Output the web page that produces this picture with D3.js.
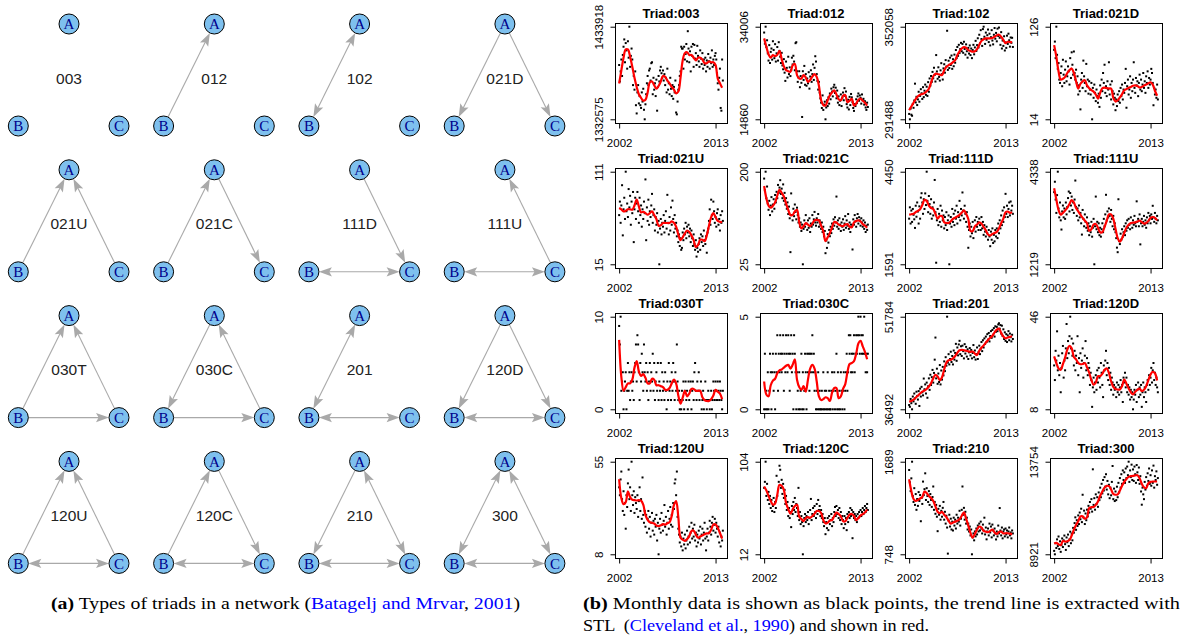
<!DOCTYPE html>
<html lang="en">
<head>
<meta charset="UTF-8">
<title>Triad census</title>
<script src="https://d3js.org/d3.v7.min.js"></script>
<style>
  body { margin: 0; background: #fff; }
  svg { display: block; }
</style>
</head>
<body>
<script>
// triad types, same order for the graphs (left) and the time series (right)
var triadTypes = ["003", "012", "102", "021D", "021U", "021C", "111D", "111U",
                  "030T", "030C", "201", "120D", "120U", "120C", "210", "300"];

// "X>Y" one-way tie, "X=Y" mutual tie
var triadEdges = [
  [], ["B>A"], ["A=B"], ["A>B", "A>C"],
  ["B>A", "C>A"], ["B>A", "A>C"], ["A>C", "B=C"], ["C>A", "B=C"],
  ["B>A", "C>A", "B>C"], ["A>B", "C>A", "B>C"], ["A=B", "B=C"], ["A>B", "A>C", "B=C"],
  ["B>A", "C>A", "B=C"], ["B>A", "A>C", "B=C"], ["A>B", "A=C", "B=C"], ["A=B", "A=C", "B=C"]
];

// y tick labels (min and max of each series)
var yMin = [1332575, 14860, 291488, 14, 15, 25, 1591, 1219, 0, 0, 36492, 8, 8, 12, 748, 8921];
var yMax = [1433918, 34006, 352058, 126, 111, 200, 4450, 4338, 10, 5, 51784, 46, 55, 104, 1689, 13754];
var xTicks = [2002, 2013];
var firstYear = 2002;

// STL trend, read every third month (Jan 2002, Apr 2002, ...)
var trend003 = [1371700,1386000,1400000,1409000,1409000,1401000,1390000,1378000,1368000,1360000,1356000,1353000,1354000,1362000,1373000,1374000,1370000,1366000,1369000,1374000,1380000,1379000,1375000,1372000,1368000,1365000,1361000,1363000,1378000,1397000,1405000,1406000,1403000,1403000,1400000,1397000,1400000,1400000,1398000,1394000,1394000,1396000,1395000,1395000,1392000,1377000,1372000,1367000];
var trend012 = [31590,29850,28300,27600,28130,27900,28200,29030,27300,25800,25020,24800,24680,26000,26300,24000,23290,23290,24000,23500,22600,23000,23700,24190,23600,21800,18800,17800,17700,18800,19800,20400,20870,20000,19000,18800,19700,19900,18400,18700,19100,17700,18100,18900,19150,18700,18300,17700];
var trend102 = [297400,299900,302300,304700,306600,307600,308000,308600,309800,311500,315500,319600,321300,321100,320700,320400,323600,325800,326900,327700,328900,330200,333500,335900,337800,338700,338300,336700,336200,335700,336000,337400,340300,342800,343900,344400,344400,344400,344700,345500,346500,346800,345500,343400,341300,342200,342000,341800];
var trend021D = [103.7,89.6,72,62,63,65.3,70,73.5,75.5,70,60,51.2,57,60,61.3,55,51.5,49.2,47.5,44,39.1,46,51.5,52.4,51.7,51.2,51.2,40,35.5,37.1,40.5,44.5,49.2,50.5,52,53.2,54.5,55,54.2,52.5,53,54.7,56.2,57.5,58.8,56,48.5,42.5];
var trend021U = [73.3,72,69.9,70.5,72,72,71.6,76,82,75,68.8,69.5,68,66.4,68,69.9,66,62,55,55.5,57.8,57.8,57.8,57.8,59.6,58,54,46,40,43,47,50,48.5,45,40,33,35,40.5,40.5,39,45,55,64,68,64,60,59,58.6];
var trend021C = [173,150,136,132,135.6,142,155,165.7,160,153,140,128,118,118,125,128,105,93,97,103,100,97,102,108,109,108,98,87.5,68.8,76,84,95,105,104,100,98,97,100,101,96,95,104,107,108,106,101,98,94];
var trend111D = [3123,3135,3152,3200,3240,3290,3420,3580,3550,3400,3330,3300,3150,3000,3080,3080,2890,2866,2866,2920,2990,3030,3070,3120,3180,3260,3150,2990,2620,2620,2760,2820,2888,2850,2740,2640,2510,2480,2530,2560,2590,2700,2860,3000,3200,3220,3180,3200];
var trend111U = [3780,3400,3050,2890,2950,3030,3120,3250,3380,3300,3112,3000,2890,2780,2690,2600,2350,2400,2560,2580,2450,2300,2300,2480,2680,2900,2900,2750,2420,2100,1980,2100,2280,2450,2550,2610,2620,2630,2660,2690,2640,2590,2610,2680,2780,2813,2780,2700];
var trend030T = [7.5,3.5,2.0,2.4,2.8,2.8,3.2,4.5,5.2,4.1,3.6,3.8,3.4,2.8,2.8,3.3,3.2,2.6,2.6,2.5,2.4,2.1,2.1,2.3,2.8,3.2,2.8,1.5,0.6,1.25,2.0,1.4,1.7,2.2,2.2,2.0,2.0,2.0,1.3,1.0,0.9,0.9,1.1,1.5,2.1,1.9,1.7,1.1];
var trend030C = [1.5,0.8,0.7,1.3,1.55,1.65,1.95,2.1,2.15,2.25,2.35,2.4,2.2,2.4,2.7,1.6,1.2,1.05,1.25,0.95,1.6,2.2,2.4,2.2,1.5,0.7,0.5,0.55,0.65,0.6,0.45,0.9,1.15,1.15,0.6,0.7,1.1,1.35,2.0,2.45,2.5,2.6,3.0,3.55,3.7,3.4,3.1,2.7];
var trend201 = [37760,37850,38100,38400,38750,39100,39400,39600,39850,40250,40800,41600,42200,41900,41300,41800,43100,44200,44600,44650,44900,45290,45830,46250,46320,46250,46170,46050,45990,46030,45700,45450,46150,46650,47050,47500,47950,48300,48650,49200,49650,49820,49110,48500,48220,48340,48450,48550];
var trend120D = [29.7,27,24.8,24.2,26.5,29.2,32.5,34,33,29.5,28.5,27,26.5,26.6,27,25.2,23,20,18.1,18.9,21.6,21.6,22.6,24.2,24.8,22.9,19.5,17.2,16.3,16.1,16.1,17.5,20.2,18.5,16.5,15,14.1,15.2,16,16.5,15.5,16,17.5,20,22.3,23.4,22.8,19.8];
var trend120U = [46.1,36.5,33.5,34.5,40,37,35.7,35.5,35.3,35.5,35.2,33.2,28,25.5,24.3,24,23.6,22.6,22.3,22.7,23.3,23.1,23.8,24.3,27.5,33,35,27,16.5,15.4,14.8,15.7,17.2,19.8,20,18,16.4,17,17.6,18.2,18.6,18.7,20.5,23.1,23.1,21.5,18.8,16];
var trend120C = [79.4,75.5,70,65,61.3,62.5,71.2,81,80,76,63,57,52.4,56.5,60,61.3,49.5,47,45,48,49,48.3,50,52.4,55,55,53,46,42.6,43.5,45.5,46,50,53.5,52,49.8,45,44.8,48.3,51.5,52,50,46,48,50.5,52,53.5,56.5];
var trend210 = [1511,1390,1310,1290,1300,1315,1330,1385,1370,1340,1320,1290,1235,1180,1165,1180,1150,1125,1090,1060,1070,1080,1088,1105,1140,1175,1110,1040,966,916,955,1000,1030,1020,985,978,973,985,1000,970,955,975,978,960,962,962,958,950];
var trend300 = [9491,9520,9440,9400,9612,9580,9600,9665,9900,10200,10450,10646,10900,10900,10780,10850,11338,11380,11390,11500,11681,11980,12200,12400,12493,12480,12300,12070,12029,12050,12250,12500,12700,12850,12960,13000,13010,13040,13050,12889,12600,12420,12372,12633,12700,12720,12720,12720];

// monthly counts, Jan 2002 .. Nov 2013
var points003 = [
  1392000,1374000,1385000,1398000,1380000,1403000,1412000,1420000,1395000,1416000,1408000,1388000,
  1418000,1400000,1433918,1390000,1402000,1410000,1398000,1370000,1380000,1365000,1385000,1348000,
  1339000,1362000,1370000,1350000,1358000,1348000,1345000,1362000,1352000,1366000,1343000,1332575,
  1349000,1360000,1372000,1380000,1370000,1386000,1388000,1375000,1394000,1395000,1360000,1378000,
  1365000,1372000,1358000,1376000,1342000,1368000,1380000,1374000,1386000,1390000,1383000,1378000,
  1386000,1375000,1382000,1370000,1378000,1362000,1388000,1365000,1372000,1360000,1378000,1366000,
  1358000,1370000,1355000,1368000,1362000,1375000,1340000,1338000,1352000,1365000,1370000,1380000,
  1385000,1412000,1410000,1410000,1388000,1412000,1398000,1404000,1415000,1396000,1429000,1410000,
  1395000,1407000,1385000,1412000,1402000,1415000,1390000,1414000,1399000,1405000,1392000,1413000,
  1402000,1396000,1390000,1408000,1399000,1393000,1405000,1388000,1398000,1392000,1400000,1385000,
  1397000,1390000,1404000,1396000,1388000,1400000,1394000,1408000,1390000,1398000,1392000,1402000,
  1405000,1398000,1383000,1372000,1365000,1378000,1388000,1345000,1342000,1398000,1375000];
var points012 = [
  32800,30500,34006,29800,31200,28500,27000,30200,26500,28800,29500,27200,
  31000,29200,27500,30400,26800,28500,29800,27000,30800,29000,27800,26500,
  28600,26000,25200,27300,24500,22800,26800,25500,23500,27800,24200,25600,
  23800,25000,27600,26200,28000,26800,25000,30600,30800,24800,22600,23500,
  24800,21500,23800,22400,15340,24800,23000,25900,22000,24200,21800,23300,
  22300,24600,21200,23700,25000,22600,24200,26200,23000,25500,27900,26800,
  24200,22800,21000,22600,20400,19200,18300,17200,19800,16800,17900,18500,
  14860,17300,18800,17600,19400,18100,20200,19000,21200,20600,19600,21500,
  22000,20300,21400,19200,20800,18300,19600,17800,18700,20000,17600,19300,
  20400,18800,21300,19700,20600,18000,17300,18900,16900,19500,17800,20100,
  19400,18400,17200,16600,18000,17600,19000,18200,19600,20200,18700,19800,
  19300,18100,20000,18800,19100,17900,18600,17300,16800,18300,17400];
var points102 = [
  295000,291488,298500,294500,293800,301500,299000,303800,314800,302500,306200,300800,
  304500,309500,303000,306800,311200,308500,304800,312500,306000,310200,314200,307500,
  312800,306800,315800,309500,318200,313500,319800,316000,322500,318300,325200,320500,
  316200,333500,322800,318000,325500,319200,316800,323500,328200,321000,317500,324800,
  327500,322000,330200,326000,349400,323800,329800,325000,331800,327000,333200,324500,
  330800,326200,333800,328500,336800,331500,338800,333000,340200,334800,337500,341500,
  336000,340800,335000,342200,337500,333800,340500,336000,331800,338200,334500,339800,
  333500,337800,331500,336800,340200,334000,338500,342800,336200,340000,344500,338500,
  346800,341200,349800,344000,339500,350500,352058,345500,340800,348200,343500,346500,
  350200,342000,347500,339800,345200,349800,343000,340500,346800,351200,344200,348000,
  342500,350800,346000,351500,344800,340200,348500,337800,343000,339500,345800,336500,
  341800,338200,346200,340800,347500,343200,339000,345000,341500,344800,338800];
var points021D = [
  98,108,88,126,92,75,82,62,58,70,78,54,
  86,68,58,74,84,60,66,78,72,56,88,64,
  95,80,68,96,70,62,74,58,66,44,55,48,
  26,62,70,52,85,66,58,48,81,54,62,45,
  60,50,44,58,14,52,40,56,46,36,50,42,
  34,45,29,55,40,62,48,70,58,80,46,54,
  42,60,50,83,44,56,38,60,48,32,45,40,
  25,38,30,44,36,48,34,52,42,56,38,50,
  46,58,75,28,54,62,44,50,66,40,58,48,
  62,83,52,46,64,55,60,42,58,68,50,62,
  48,56,70,52,60,46,66,58,72,52,64,56,
  62,75,70,58,31,52,44,50,40,56,38];
var points021U = [
  66,80,58,76,97,45,72,84,62,111,70,78,
  64,93,74,86,56,80,68,90,38,72,84,62,
  78,90,70,58,84,66,76,54,72,62,80,68,
  103,40,74,60,82,56,70,64,76,88,58,66,
  72,50,64,56,68,48,60,15,52,62,46,58,
  54,66,48,60,70,52,87,58,46,64,50,74,
  56,81,62,48,66,52,58,44,50,38,46,34,
  42,30,32,48,40,52,46,58,42,54,48,56,
  44,52,38,50,42,34,46,36,30,40,23,32,
  28,36,42,30,46,38,44,34,50,40,36,44,
  27,48,52,60,72,56,82,66,62,80,70,58,
  64,54,68,72,56,62,50,66,58,70,60];
var points021C = [
  187,165,200,150,172,140,128,145,118,136,152,125,
  138,148,130,156,142,162,150,175,160,170,184,158,
  168,150,176,145,160,138,150,130,142,120,134,112,
  48,159,118,108,130,116,138,124,110,132,118,104,
  112,96,104,88,100,25,92,108,96,118,102,90,
  108,94,112,86,102,96,118,100,110,124,104,98,
  112,104,120,96,108,100,92,104,86,96,78,88,
  46,70,56,82,66,90,78,96,84,102,92,110,
  98,114,104,153,96,108,92,112,100,88,104,96,
  110,90,102,116,94,108,98,120,92,104,86,100,
  96,53,110,100,118,106,96,112,120,102,114,108,
  98,112,104,96,108,92,104,86,98,90,100];
var points111D = [
  3000,3350,2850,3250,2900,3300,3120,2980,2714,3400,3060,3500,
  3220,2850,3380,3000,3650,3786,3500,3150,3600,3300,3780,3420,
  4450,3550,3200,3700,3450,3150,3600,3000,3350,3100,3500,4195,
  3200,1640,2950,3300,2800,3150,2900,3400,2750,3250,2950,3100,
  2700,3050,2800,3200,2650,2950,3100,1591,2850,3050,2750,3300,
  2900,3150,2800,3250,3000,3400,2850,3200,3050,3550,2950,3300,
  3100,3809,3250,3000,3400,3150,2900,3200,2750,2101,2650,2850,
  2450,2750,2550,2900,2400,2700,2950,2600,3050,2750,2900,2650,
  3000,2800,2650,3050,2700,2900,2500,2800,2600,2450,2750,2550,
  2350,2650,2450,2150,2600,2350,2700,2250,2500,2300,2650,2450,
  2700,2400,2850,2550,2950,2700,3100,2800,3250,2900,3350,3050,
  3766,3150,3400,3050,3300,3500,3100,3530,3250,3400,3150];
var points111U = [
  3650,4000,3400,2950,3550,4338,3100,2800,3300,2700,2390,3000,
  3200,2800,3100,2750,3300,2900,3150,3450,3670,3000,3620,3200,
  3500,3050,3300,2950,3400,4040,3150,2850,3100,2700,3200,2800,
  2950,2600,2220,3050,2750,2500,2900,2650,2450,2800,2350,2600,
  2200,2500,2300,2650,2150,2450,2750,1219,2500,3500,2400,2650,
  2300,2600,2200,2450,2150,2400,2600,2300,2750,2500,2900,3560,
  2700,3000,2800,3100,2850,2650,3050,2750,2500,2850,2400,2600,
  2300,2100,1780,1627,3410,2000,1900,2250,2050,2400,2150,2300,
  2500,2200,2600,2350,2700,2450,2750,2550,2400,2800,2600,2450,
  2700,2550,2850,2600,2500,3340,2650,2750,2500,2900,1890,2600,
  2750,2500,2650,2850,2550,2700,2450,2800,2600,2950,2700,2850,
  2600,2900,2750,3190,2800,2650,2950,2750,2600,2850,2700];
var points030T = [
  9,7,10,2,3,4,0,2,3,4,0,2,
  5,2,4,1,3,4,2,3,1,4,5,7,
  3,8,7,4,1,5,3,6,4,2,7,4,
  3,5,2,4,1,3,5,2,4,3,6,2,
  5,1,3,4,2,5,1,3,2,5,1,4,
  2,3,1,4,2,0,3,1,5,2,3,1,
  4,2,5,3,1,4,2,7,3,1,2,0,
  1,0,2,1,3,0,2,3,1,2,0,3,
  1,2,3,0,2,3,1,4,5,2,1,3,
  2,4,1,2,3,0,1,2,0,1,3,1,
  0,1,2,1,0,1,2,0,1,3,2,1,
  3,2,1,3,2,1,3,2,1,0,2];
var points030C = [
  0,3,0,1,0,2,0,1,3,2,0,2,
  3,1,2,0,3,2,4,1,3,2,4,3,
  2,3,4,1,3,2,4,3,2,4,3,1,
  3,4,2,3,0,4,3,2,0,2,1,0,
  2,0,1,3,0,2,0,1,3,2,0,3,
  2,3,1,3,2,3,4,2,3,1,2,0,
  1,0,2,0,1,0,0,1,0,2,0,1,
  0,1,0,2,0,1,0,0,1,2,0,1,
  2,0,1,3,0,2,0,1,0,2,1,0,
  1,2,0,1,2,3,1,2,4,3,4,2,
  3,2,3,4,2,3,4,3,4,5,4,3,
  5,4,3,4,3,5,3,2,3,2,3];
var points201 = [
  37200,36900,38200,37500,36492,38600,37800,39100,38300,37400,39400,38700,
  38100,39500,37040,39900,38600,40200,39300,38800,41570,39800,40600,39100,
  40900,38400,40300,41600,39700,42200,40500,41800,43000,40900,42500,44690,
  48340,41600,43200,40700,42400,41000,43800,40600,42900,41400,43500,42100,
  44400,42800,45100,43700,51784,44200,45600,43900,44800,46000,44300,45300,
  43900,46200,44700,45800,47300,44500,46700,45400,47200,47800,45600,46900,
  45300,47000,46100,44900,47250,45700,46800,45200,46400,44800,45900,46600,
  45400,46300,44900,45800,47100,45100,46200,44700,45600,46700,44800,45900,
  47000,45600,46500,47600,46100,47900,46700,48200,47300,48500,47600,48900,
  48000,49100,47700,48600,49400,48300,49600,48800,49900,48500,50200,49300,
  50100,49400,50500,50700,49800,50400,49000,50300,48600,49700,48100,49200,
  47800,48900,47600,48700,49400,47900,49000,48400,47700,48800,48100];
var points120D = [
  26,20,32,28,40,24,30,22,27,15,25,31,
  34,21,28,24,33,43,29,36,31,38,46,33,
  37,30,35,26,32,24,30,27,38,22,29,15,
  31,25,28,33,21,27,30,36,24,29,22,27,
  25,18,23,20,9,17,21,15,19,22,16,24,
  19,25,21,17,27,23,18,13,26,24,28,32,
  22,27,20,25,18,23,16,21,19,14,18,16,
  17,13,19,15,18,14,17,20,15,18,11,21,
  19,23,17,21,15,18,14,17,12,16,13,15,
  8,12,16,14,18,11,16,19,13,17,14,18,
  9,15,19,13,17,15,11,18,20,16,22,18,
  21,25,19,24,27,20,23,18,21,17,15];
var points120U = [
  42,38,46,50,36,30,40,28,34,21,38,32,
  44,51,36,42,30,55,38,33,40,29,37,34,
  31,38,27,35,42,30,36,26,47,28,24,30,
  22,28,19,26,30,21,27,17,24,29,20,25,
  18,26,22,28,15,24,8,21,26,19,29,23,
  20,25,33,22,27,18,24,30,21,26,32,23,
  28,22,34,31,44,46,38,50,27,21,18,14,
  17,12,19,10,16,13,18,11,15,20,13,17,
  22,14,19,24,16,21,17,23,15,19,12,18,
  14,20,16,22,13,18,21,15,19,24,16,10,
  17,21,15,19,25,22,18,24,27,20,23,26,
  19,24,21,17,22,14,19,12,17,15,20];
var points120C = [
  78,84,104,70,82,66,74,62,70,58,66,55,
  60,68,54,64,58,90,70,76,84,100,96,78,
  86,72,82,68,76,62,70,56,64,50,58,48,
  54,39,60,52,64,56,68,54,62,58,50,78,
  46,54,42,50,44,12,40,48,52,44,50,46,
  54,42,48,56,67,46,52,58,50,60,54,48,
  62,52,66,56,60,50,56,48,52,44,40,48,
  32,44,38,48,36,50,42,46,52,40,48,44,
  54,59,50,60,52,56,48,58,46,54,42,50,
  46,38,50,42,48,36,52,44,54,48,58,50,
  56,28,54,48,52,46,50,44,52,48,54,50,
  56,50,54,58,52,56,60,54,58,62,56];
var points210 = [
  1605,1480,1390,1520,1689,1340,1280,1420,1250,1360,1200,1310,
  1240,1380,1290,1350,1084,1320,1260,1487,1350,1410,1571,1300,
  1420,1340,1280,1390,1250,1360,1300,1230,1330,1437,1200,1280,
  1160,1250,1130,983,1210,1150,1240,1100,1190,1130,1220,1280,
  1100,1180,1060,1140,1020,755,1090,1150,1030,1110,1000,1080,
  990,1120,1040,1100,1010,1150,1060,1120,1080,1190,1040,1110,
  1200,1437,1150,1220,1100,1180,1060,1120,1000,1060,980,1030,
  940,1000,748,920,960,890,980,930,1010,950,1040,980,
  1060,990,1080,1010,960,1050,990,1120,950,1020,900,980,
  1010,940,1060,970,1030,920,1050,990,940,1010,960,899,
  980,930,1040,960,1218,990,940,1020,910,980,1000,930,
  1010,950,990,920,980,1020,940,970,910,990,960];
var points300 = [
  9100,8921,9500,9250,9700,9350,9850,9200,9600,9050,9400,9750,
  9300,9650,9900,9450,9150,9800,9550,9950,9350,9700,10100,9500,
  10000,9650,10300,10050,10550,10850,10200,10700,10400,10950,10500,11100,
  10750,11300,10600,12029,10850,11200,10500,11050,10700,11250,10900,11450,
  11100,11650,11300,11800,11150,13357,11500,11850,11250,12050,11550,11900,
  11400,12150,11750,12400,11900,12600,12100,12800,12250,12950,12450,13100,
  12300,12750,12050,12550,11850,12400,12000,12700,13530,11800,12350,11700,
  12200,11750,12450,11900,12650,12150,12900,12400,13100,12600,13300,12800,
  13200,12650,13400,12900,13500,13050,13754,12700,13300,12950,13600,12800,
  13350,12750,13500,13100,12650,13580,13200,12800,13450,12600,13000,12200,
  11510,12400,12050,11800,12700,12300,12950,12500,13150,12750,13400,12600,
  13050,12500,13300,12650,13550,12400,13000,12800,13250,12550,12900];

var trends = [trend003, trend012, trend102, trend021D, trend021U, trend021C, trend111D, trend111U,
              trend030T, trend030C, trend201, trend120D, trend120U, trend120C, trend210, trend300];
var points = [points003, points012, points102, points021D, points021U, points021C, points111D, points111U,
              points030T, points030C, points201, points120D, points120U, points120C, points210, points300];

var sans = "'Liberation Sans', Arial, Helvetica, sans-serif";
var serif = "'Liberation Serif', 'Times New Roman', Times, serif";

var svg = d3.select("body")
    .append("svg")
    .attr("width", 1185)
    .attr("height", 637);

svg.append("rect").attr("width", 1185).attr("height", 637).attr("fill", "#fff");

// ---------- (a) triad graphs ----------
var nodeOffset = { A: [50.7, 0], B: [0, 102], C: [100.7, 102] };
var cellX = d3.scaleLinear().domain([0, 3]).range([18.3, 454.2]);
var cellY = d3.scaleLinear().domain([0, 3]).range([24, 461.4]);
var nodeR = 10, headLen = 13, headW = 4.6;
var edgeColor = "#a9a9a9";

var graphs = svg.append("g");

function arrowHead(g, tip, ux, uy) {
  var nx = -uy, ny = ux;
  var pts = [
    [tip[0], tip[1]],
    [tip[0] - ux * headLen + nx * headW, tip[1] - uy * headLen + ny * headW],
    [tip[0] - ux * headLen * 0.8, tip[1] - uy * headLen * 0.8],
    [tip[0] - ux * headLen - nx * headW, tip[1] - uy * headLen - ny * headW]
  ];
  g.append("polygon")
    .attr("points", pts.map(function(p) { return p.join(","); }).join(" "))
    .attr("fill", edgeColor);
}

triadTypes.forEach(function(name, i) {
  var col = i % 4, row = Math.floor(i / 4);
  var ox = cellX(col), oy = cellY(row);
  var pos = {};
  Object.keys(nodeOffset).forEach(function(k) {
    pos[k] = [ox + nodeOffset[k][0], oy + nodeOffset[k][1]];
  });
  var g = graphs.append("g");

  triadEdges[i].forEach(function(e) {
    var from = pos[e[0]], to = pos[e[2]], mutual = e[1] === "=";
    var dx = to[0] - from[0], dy = to[1] - from[1];
    var len = Math.sqrt(dx * dx + dy * dy), ux = dx / len, uy = dy / len;
    var s = [from[0] + ux * nodeR, from[1] + uy * nodeR];
    var t = [to[0] - ux * nodeR, to[1] - uy * nodeR];
    var cut = headLen * 0.7;
    g.append("line")
      .attr("x1", mutual ? s[0] + ux * cut : s[0])
      .attr("y1", mutual ? s[1] + uy * cut : s[1])
      .attr("x2", t[0] - ux * cut)
      .attr("y2", t[1] - uy * cut)
      .attr("stroke", edgeColor)
      .attr("stroke-width", 1.1);
    arrowHead(g, t, ux, uy);
    if (mutual) arrowHead(g, s, -ux, -uy);
  });

  Object.keys(pos).forEach(function(k) {
    g.append("circle")
      .attr("cx", pos[k][0]).attr("cy", pos[k][1]).attr("r", nodeR)
      .attr("fill", "#7ec0ee").attr("stroke", "#000").attr("stroke-width", 1);
    g.append("text")
      .attr("x", pos[k][0]).attr("y", pos[k][1] + 5.2)
      .attr("text-anchor", "middle")
      .style("font-family", serif).style("font-size", "15px")
      .attr("fill", "#00008b")
      .text(k);
  });

  g.append("text")
    .attr("x", ox + nodeOffset.A[0]).attr("y", oy + 59.5)
    .attr("text-anchor", "middle")
    .style("font-family", sans).style("font-size", "15.5px")
    .attr("fill", "#222")
    .text(name);
});

// ---------- (b) time series panels ----------
var boxW = 112, boxH = 100;
var trendMonths = d3.range(0, 142, 3);
var panels = svg.append("g");

triadTypes.forEach(function(name, i) {
  var col = i % 4, row = Math.floor(i / 4);
  var left = 615 + col * 145, top = 23 + row * 145;
  var lastYear = firstYear + (points[i].length - 1) / 12;
  var xPad = 0.04 * (lastYear - firstYear);
  var yPad = 0.04 * (yMax[i] - yMin[i]);

  var x = d3.scaleLinear()
      .domain([firstYear - xPad, lastYear + xPad])
      .range([left, left + boxW]);
  var y = d3.scaleLinear()
      .domain([yMin[i] - yPad, yMax[i] + yPad])
      .range([top + boxH, top]);

  var g = panels.append("g");

  g.selectAll("rect.pt")
    .data(points[i])
    .enter().append("rect")
    .attr("class", "pt")
    .attr("x", function(d, m) { return x(firstYear + m / 12) - 1; })
    .attr("y", function(d) { return y(d) - 1; })
    .attr("width", 2).attr("height", 2)
    .attr("fill", "#000");

  var line = d3.line()
      .x(function(d, k) { return x(firstYear + trendMonths[k] / 12); })
      .y(function(d) { return y(d); })
      .curve(d3.curveCatmullRom.alpha(0.5));

  g.append("path")
    .attr("d", line(trends[i]))
    .attr("fill", "none")
    .attr("stroke", "#ff0000")
    .attr("stroke-width", 2.2)
    .attr("stroke-linejoin", "round");

  g.append("rect")
    .attr("x", left + 0.5).attr("y", top + 0.5)
    .attr("width", boxW).attr("height", boxH)
    .attr("fill", "none").attr("stroke", "#000").attr("stroke-width", 1);

  var xAxis = g.append("g")
      .attr("transform", "translate(0," + (top + boxH + 0.5) + ")")
      .call(d3.axisBottom(x).tickValues(xTicks).tickFormat(d3.format("d")).tickSize(5).tickSizeOuter(0));
  xAxis.select(".domain").remove();
  xAxis.selectAll("text").attr("y", 23).attr("dy", 0)
      .style("font-family", sans).style("font-size", "11.5px").attr("fill", "#000");

  var yAxis = g.append("g")
      .attr("transform", "translate(" + (left + 0.5) + ",0)")
      .call(d3.axisLeft(y).tickValues([yMin[i], yMax[i]]).tickFormat(d3.format("d")).tickSize(5).tickSizeOuter(0));
  yAxis.select(".domain").remove();
  yAxis.selectAll("text")
      .attr("transform", "rotate(-90)")
      .attr("x", 0).attr("y", -13).attr("dy", 0)
      .style("text-anchor", "middle")
      .style("font-family", sans).style("font-size", "11.5px").attr("fill", "#000");

  g.append("text")
    .attr("x", left + boxW / 2).attr("y", top - 5)
    .attr("text-anchor", "middle")
    .style("font-family", sans).style("font-size", "13px").style("font-weight", "bold")
    .text("Triad:" + name);
});

// ---------- captions ----------
// the printed captions are a little wider than Liberation Serif, so each line is stretched to its width
function caption(xPos, yPos, parts, width) {
  var t = svg.append("text")
      .attr("x", xPos).attr("y", yPos)
      .style("font-family", serif).style("font-size", "17.5px")
      .attr("fill", "#000")
      .attr("textLength", width)
      .attr("lengthAdjust", "spacingAndGlyphs");
  parts.forEach(function(p) {
    var s = t.append("tspan").text(p[0]);
    if (p[1] === "b") s.style("font-weight", "bold");
    if (p[1] === "c") s.attr("fill", "#0000ff");
  });
  return t;
}

caption(51, 609, [["(a)", "b"], [" Types of triads in a network ("], ["Batagelj and Mrvar", "c"], [", "], ["2001", "c"], [")"]], 469);
caption(583, 609, [["(b)", "b"], [" Monthly data is shown as black points, the trend line is extracted with"]], 597);
caption(583, 631, [["STL \u00a0("], ["Cleveland et al.", "c"], [", "], ["1990", "c"], [") and shown in red."]], 346);
</script>
</body>
</html>
